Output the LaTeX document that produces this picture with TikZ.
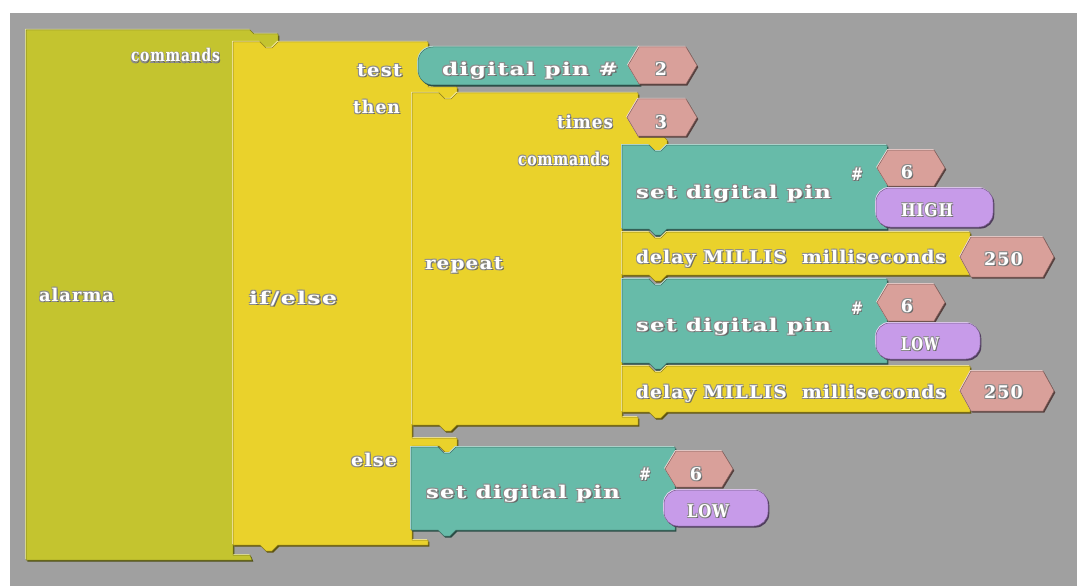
\documentclass[tikz,border=0pt]{standalone}
\usepackage{fontspec}
\usepackage{graphicx}
\newfontfamily\blkfont{DejaVu Serif}[LetterSpace=6]

\definecolor{canvasgray}{HTML}{A0A0A0}
\definecolor{procolive}{HTML}{C4C42F}
\definecolor{ctrlyellow}{HTML}{EAD22B}
\definecolor{pinteal}{HTML}{67BBA9}
\definecolor{numpink}{HTML}{D9A09A}
\definecolor{lvlviolet}{HTML}{C79BE9}
\definecolor{txtshade}{HTML}{666666}

% white label text with a soft grey halo
\newcommand\shtxt[1]{\leavevmode
  \rlap{\kern1.2pt\raisebox{-1.2pt}{\textcolor{txtshade}{#1}}}%
  \rlap{\kern-0.7pt\raisebox{0.7pt}{\textcolor{txtshade!75}{#1}}}%
  \rlap{\kern0.9pt\raisebox{0.7pt}{\textcolor{txtshade!75}{#1}}}%
  \rlap{\kern-0.7pt\raisebox{-1.1pt}{\textcolor{txtshade!75}{#1}}}%
  #1}
% label squeezed or stretched horizontally to a given width
\newcommand\fitw[2]{\resizebox{#1pt}{\height}{\shtxt{#2}}}

% statement block: left, right, top, bottom, style (notch on top, tab below)
\newcommand\stmtblock[5]{%
  \path[#5] (#1,#3) -- ({#1+27},#3) -- ({#1+33},{#3+6}) -- ({#1+39},{#3+6})
    -- ({#1+45},#3) -- (#2,#3) -- (#2,#4) -- ({#1+45},#4) -- ({#1+39},{#4+6})
    -- ({#1+33},{#4+6}) -- ({#1+27},#4) -- (#1,#4) -- cycle;}
% number socket: left, right, top, bottom
\newcommand\numhex[4]{%
  \path[blk=numpink] ({#1},{(#3+#4)/2}) -- ({#1+11},#3) -- ({#2-11},#3)
    -- ({#2},{(#3+#4)/2}) -- ({#2-11},#4) -- ({#1+11},#4) -- cycle;}

\tikzset{
  % bevelled block: dark edge below right, light edge above left
  blk/.style={fill=#1, draw=#1!60!black, line width=0.5pt, line join=round,
    preaction={fill=#1!40!black, transform canvas={xshift=1.3pt, yshift=-1.6pt}},
    preaction={fill=#1!45!white, transform canvas={xshift=-0.8pt, yshift=1pt}}},
  lvlpill/.style={blk=lvlviolet, rounded corners=14pt},
  lbl/.style={inner sep=0pt, outer sep=0pt, text=white,
    font=\blkfont\bfseries\fontsize{17.5}{18}\selectfont},
}

\begin{document}
\begin{tikzpicture}[x=1pt, y=-1pt]
\useasboundingbox (0,0) rectangle (1077,586);
\fill[white] (0,0) rectangle (1077,586);
\fill[canvasgray] (10,13) rectangle (1077,586);

% procedure block "alarma"
\path[blk=procolive] (26,30) -- (250,30) -- (254,34) -- (278,34) -- (278,42)
  -- (272,48) -- (266,48) -- (260,42) -- (233,42) -- (233,555) -- (250,555)
  -- (252,560) -- (26,560) -- cycle;

% if/else block
\path[blk=ctrlyellow] (233,42) -- (260,42) -- (266,48) -- (272,48) -- (278,42)
  -- (428,42) -- (428,87) -- (457,87) -- (457,93) -- (451,99) -- (445,99)
  -- (439,93) -- (412,93) -- (412,438) -- (457,438) -- (457,446) -- (451,452)
  -- (445,452) -- (439,446) -- (412,446) -- (412,540) -- (428,540) -- (428,545)
  -- (278,545) -- (272,551) -- (266,551) -- (260,545) -- (233,545) -- cycle;

% repeat block
\path[blk=ctrlyellow] (412,93) -- (439,93) -- (445,99) -- (451,99) -- (457,93)
  -- (638,93) -- (638,137) -- (664,137) -- (667,140) -- (667,145) -- (661,151)
  -- (655,151) -- (649,145) -- (622,145) -- (622,417) -- (638,417) -- (638,425)
  -- (457,425) -- (451,431) -- (445,431) -- (439,425) -- (412,425) -- cycle;

% digital pin reader in the test socket
\path[blk=pinteal] (640,47) -- (433,47) to[out=180,in=90] (418,62) -- (418,70)
  to[out=-90,in=180] (433,85) -- (640,85) -- cycle;

% statements inside repeat
\stmtblock{622}{887}{145}{229}{blk=pinteal}
\stmtblock{622}{970}{232}{275}{blk=ctrlyellow}
\stmtblock{622}{887}{279}{363}{blk=pinteal}
\stmtblock{622}{970}{366}{412}{blk=ctrlyellow}
% statement in else
\stmtblock{411}{675}{447}{530}{blk=pinteal}

% value sockets
\numhex{628}{697}{47}{84}
\numhex{627}{697}{99}{136}
\numhex{877}{945}{150}{186}
\numhex{960}{1054}{237}{277}
\numhex{877}{945}{284}{321}
\numhex{960}{1054}{371}{411}
\numhex{665}{733}{451}{487}
\path[lvlpill] (876,188) rectangle (993,227);
\path[lvlpill] (876,323) rectangle (980,359);
\path[lvlpill] (664,490) rectangle (768,526);

% labels
\node[lbl, anchor=base west] (cmdA) at (131,62) {\fitw{89}{commands}};
\node[lbl, anchor=base west] (alarma) at (39,301.5) {\fitw{75}{alarma}};
\node[lbl, anchor=base west] (ifelse) at (249,304) {\fitw{88}{if/else}};
\node[lbl, anchor=base west] (test) at (357,76.5) {\fitw{45}{test}};
\node[lbl, anchor=base west] (then) at (353,113.5) {\fitw{47}{then}};
\node[lbl, anchor=base west] (else) at (351,466.5) {\fitw{46}{else}};
\node[lbl, anchor=base west] (dpin) at (442,75.5) {\fitw{176}{digital pin \#}};
\node[lbl, anchor=base] (n2) at (661,75.5) {\shtxt{2}};
\node[lbl, anchor=base west] (times) at (557,128.5) {\fitw{56}{times}};
\node[lbl, anchor=base] (n3) at (661,128.5) {\shtxt{3}};
\node[lbl, anchor=base west] (cmdR) at (518,165.5) {\fitw{91}{commands}};
\node[lbl, anchor=base west] (repeat) at (425,269.5) {\fitw{78}{repeat}};

\node[lbl, anchor=base west] (set1) at (636,198) {\fitw{195}{set digital pin}};
\node[lbl, anchor=base west] (hash1) at (851,180.5) {\fitw{12}{\#}};
\node[lbl, anchor=base] (n6a) at (907,178.5) {\shtxt{6}};
\node[lbl, anchor=base west] (high) at (901,216.5) {\fitw{52}{HIGH}};
\node[lbl, anchor=base west] (delay1) at (636,263.5) {\fitw{310}{delay MILLIS\ \ milliseconds}};
\node[lbl, anchor=base] (n250a) at (1003.5,265) {\shtxt{250}};

\node[lbl, anchor=base west] (set2) at (636,331) {\fitw{195}{set digital pin}};
\node[lbl, anchor=base west] (hash2) at (851,314.5) {\fitw{12}{\#}};
\node[lbl, anchor=base] (n6b) at (907,312.5) {\shtxt{6}};
\node[lbl, anchor=base west] (low1) at (901,350.5) {\fitw{38}{LOW}};
\node[lbl, anchor=base west] (delay2) at (636,398) {\fitw{310}{delay MILLIS\ \ milliseconds}};
\node[lbl, anchor=base] (n250b) at (1003.5,398.5) {\shtxt{250}};

\node[lbl, anchor=base west] (set3) at (426,498) {\fitw{194}{set digital pin}};
\node[lbl, anchor=base west] (hash3) at (639,480.5) {\fitw{12}{\#}};
\node[lbl, anchor=base] (n6c) at (696,480.5) {\shtxt{6}};
\node[lbl, anchor=base west] (low2) at (687,517.5) {\fitw{42}{LOW}};
\end{tikzpicture}
\end{document}
